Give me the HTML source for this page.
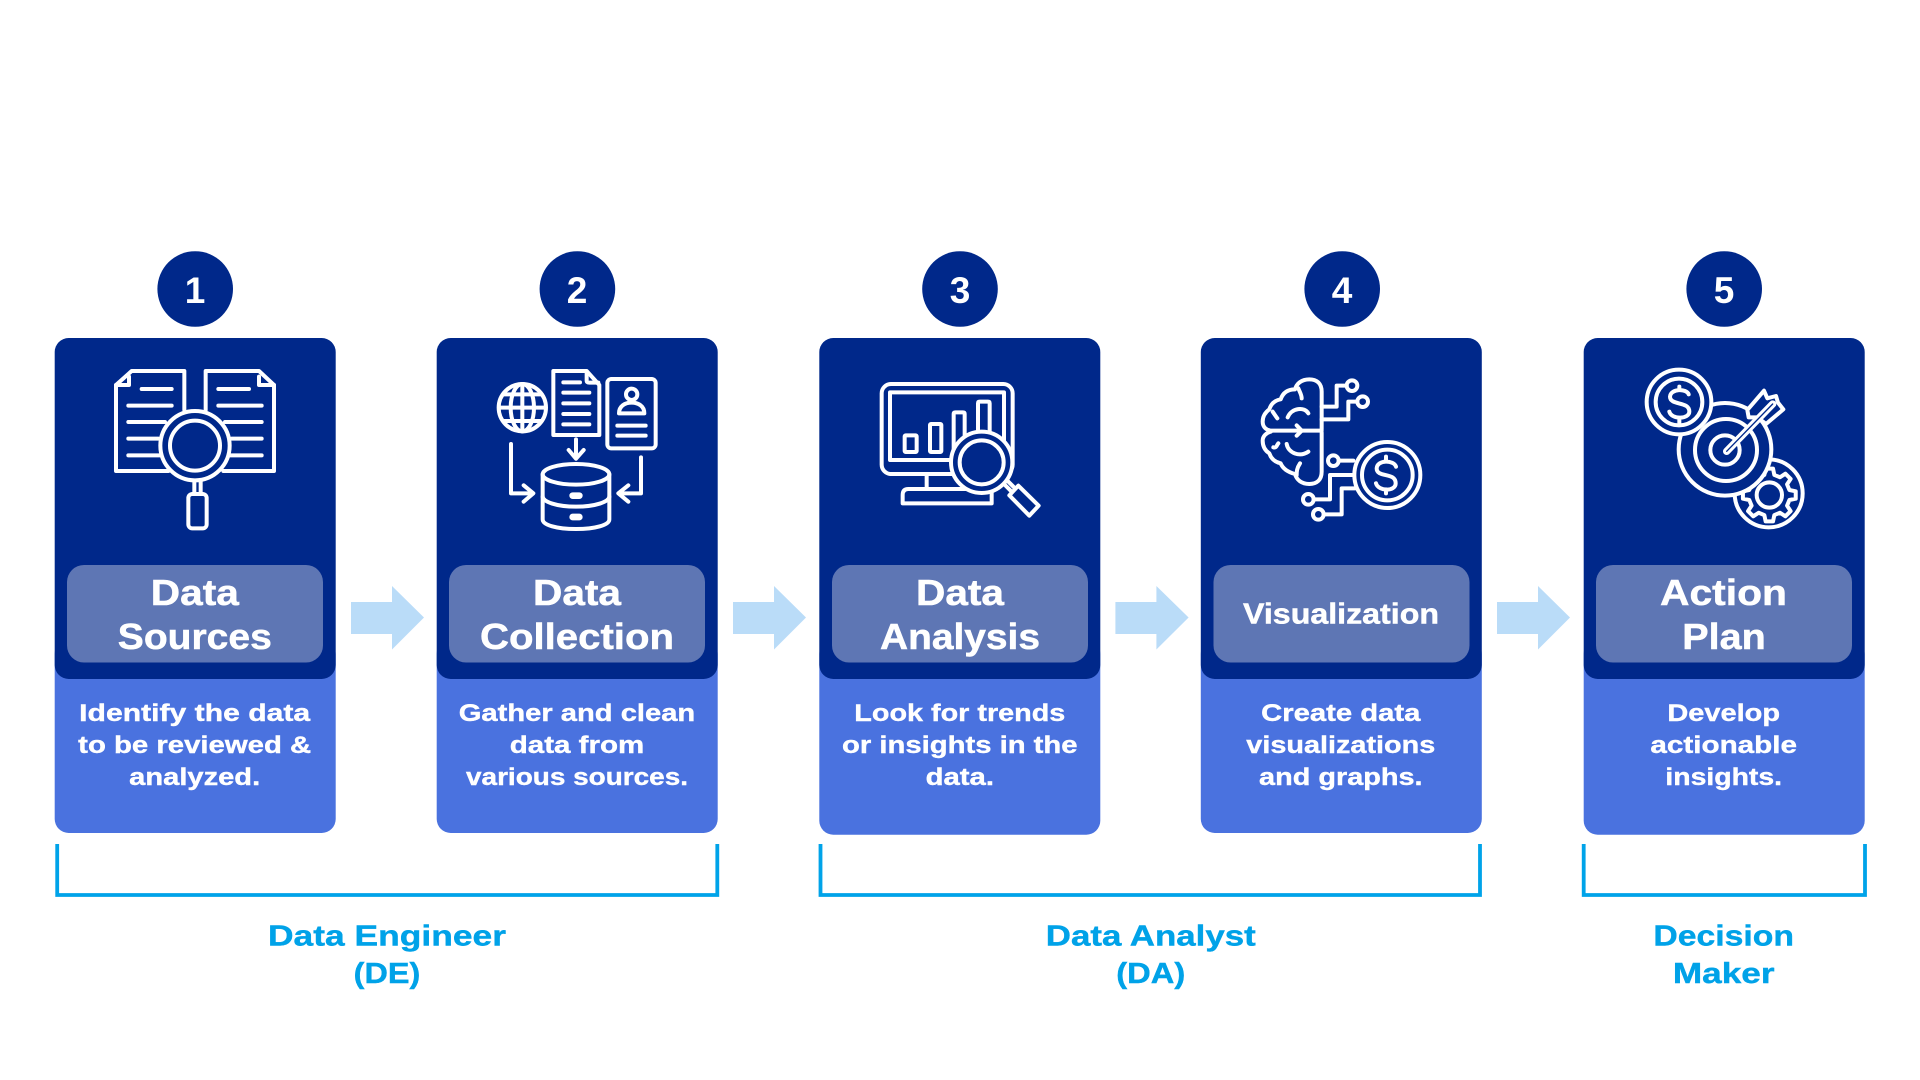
<!DOCTYPE html>
<html lang="en">
<head>
<meta charset="utf-8">
<title>Data workflow diagram</title>
<style>
html,body{margin:0;padding:0;background:#fff;width:1920px;height:1080px;overflow:hidden}
svg{display:block}
text{font-family:"Liberation Sans",sans-serif;font-weight:700;text-anchor:middle}
.t{fill:#fff;font-size:36px;stroke:#fff;stroke-width:.5px}
.d{fill:#fff;font-size:24.5px;stroke:#fff;stroke-width:.4px}
.r{fill:#00a2e8;font-size:28.5px;stroke:#00a2e8;stroke-width:.4px}
.n{fill:#fff;font-size:37px}
.i{fill:none;stroke:#fff;stroke-width:12;stroke-linecap:round;stroke-linejoin:round}
.bg{fill:#00288a}
.b{fill:none;stroke:#00a3e9;stroke-width:3.8}
</style>
</head>
<body>
<svg width="1920" height="1080" viewBox="0 0 1920 1080" xmlns="http://www.w3.org/2000/svg">
<rect width="1920" height="1080" fill="#fff"/>

<!-- light card bodies -->
<g fill="#4a72df">
<rect x="54.7" y="640" width="281" height="193" rx="14"/>
<rect x="436.7" y="640" width="281" height="193" rx="14"/>
<rect x="819.3" y="640" width="281" height="194.7" rx="14"/>
<rect x="1200.8" y="640" width="281" height="193" rx="14"/>
<rect x="1583.7" y="640" width="281" height="194.7" rx="14"/>
</g>
<!-- dark card heads -->
<g fill="#00288a">
<rect x="54.7" y="338" width="281" height="341" rx="14"/>
<rect x="436.7" y="338" width="281" height="341" rx="14"/>
<rect x="819.3" y="338" width="281" height="341" rx="14"/>
<rect x="1200.8" y="338" width="281" height="341" rx="14"/>
<rect x="1583.7" y="338" width="281" height="341" rx="14"/>
</g>
<!-- pills -->
<g fill="#5e76b4">
<rect x="67" y="565" width="256" height="97.5" rx="17"/>
<rect x="449" y="565" width="256" height="97.5" rx="17"/>
<rect x="832" y="565" width="256" height="97.5" rx="17"/>
<rect x="1213.5" y="565" width="256" height="97.5" rx="17"/>
<rect x="1596" y="565" width="256" height="97.5" rx="17"/>
</g>
<!-- number circles -->
<g fill="#00288a">
<circle cx="195.2" cy="289" r="37.8"/>
<circle cx="577.4" cy="289" r="37.8"/>
<circle cx="960" cy="289" r="37.8"/>
<circle cx="1342.2" cy="289" r="37.8"/>
<circle cx="1724.2" cy="289" r="37.8"/>
</g>
<text class="n" x="195" y="303">1</text>
<text class="n" x="577" y="303">2</text>
<text class="n" x="960" y="303">3</text>
<text class="n" x="1342" y="303">4</text>
<text class="n" x="1724" y="303">5</text>

<!-- flow arrows -->
<g fill="#badcf8">
<polygon points="351,602 392,602 392,586 424,617.5 392,649.5 392,634 351,634"/>
<polygon points="733,602 774,602 774,586 806,617.5 774,649.5 774,634 733,634"/>
<polygon points="1115.4,602 1156.4,602 1156.4,586 1188.6,617.5 1156.4,649.5 1156.4,634 1115.4,634"/>
<polygon points="1497,602 1538,602 1538,586 1570,617.5 1538,649.5 1538,634 1497,634"/>
</g>

<!-- titles -->
<text class="t" x="194.8" y="605" textLength="88" lengthAdjust="spacingAndGlyphs">Data</text>
<text class="t" x="194.8" y="649" textLength="154" lengthAdjust="spacingAndGlyphs">Sources</text>
<text class="t" x="577" y="605" textLength="88" lengthAdjust="spacingAndGlyphs">Data</text>
<text class="t" x="577" y="649" textLength="194" lengthAdjust="spacingAndGlyphs">Collection</text>
<text class="t" x="960" y="605" textLength="88" lengthAdjust="spacingAndGlyphs">Data</text>
<text class="t" x="960" y="649" textLength="160" lengthAdjust="spacingAndGlyphs">Analysis</text>
<text class="t" x="1341" y="623.3" style="font-size:29px" textLength="196" lengthAdjust="spacingAndGlyphs">Visualization</text>
<text class="t" x="1723.5" y="605" textLength="127" lengthAdjust="spacingAndGlyphs">Action</text>
<text class="t" x="1724" y="649" textLength="83.5" lengthAdjust="spacingAndGlyphs">Plan</text>

<!-- descriptions -->
<text class="d" x="194.7" y="721" textLength="231" lengthAdjust="spacingAndGlyphs">Identify the data</text>
<text class="d" x="194.7" y="753" textLength="233" lengthAdjust="spacingAndGlyphs">to be reviewed &amp;</text>
<text class="d" x="194.7" y="785" textLength="131" lengthAdjust="spacingAndGlyphs">analyzed.</text>
<text class="d" x="577" y="721" textLength="236.5" lengthAdjust="spacingAndGlyphs">Gather and clean</text>
<text class="d" x="577" y="753" textLength="134.5" lengthAdjust="spacingAndGlyphs">data from</text>
<text class="d" x="577" y="785" textLength="222" lengthAdjust="spacingAndGlyphs">various sources.</text>
<text class="d" x="959.8" y="721" textLength="211" lengthAdjust="spacingAndGlyphs">Look for trends</text>
<text class="d" x="959.8" y="753" textLength="235.5" lengthAdjust="spacingAndGlyphs">or insights in the</text>
<text class="d" x="959.8" y="785" textLength="68.4" lengthAdjust="spacingAndGlyphs">data.</text>
<text class="d" x="1340.8" y="721" textLength="159.3" lengthAdjust="spacingAndGlyphs">Create data</text>
<text class="d" x="1340.8" y="753" textLength="189" lengthAdjust="spacingAndGlyphs">visualizations</text>
<text class="d" x="1340.8" y="785" textLength="163.5" lengthAdjust="spacingAndGlyphs">and graphs.</text>
<text class="d" x="1723.7" y="721" textLength="112.7" lengthAdjust="spacingAndGlyphs">Develop</text>
<text class="d" x="1723.7" y="753" textLength="146.7" lengthAdjust="spacingAndGlyphs">actionable</text>
<text class="d" x="1723.7" y="785" textLength="116.7" lengthAdjust="spacingAndGlyphs">insights.</text>

<!-- brackets -->
<path class="b" d="M57.2 844 V895 H717.3 V844"/>
<path class="b" d="M820.5 844 V895 H1480 V844"/>
<path class="b" d="M1583.7 844 V895 H1865 V844"/>

<!-- roles -->
<text class="r" x="387" y="945.7" textLength="238" lengthAdjust="spacingAndGlyphs">Data Engineer</text>
<text class="r" x="387" y="983" textLength="66.6" lengthAdjust="spacingAndGlyphs">(DE)</text>
<text class="r" x="1150.8" y="945.7" textLength="210" lengthAdjust="spacingAndGlyphs">Data Analyst</text>
<text class="r" x="1150.8" y="983" textLength="69" lengthAdjust="spacingAndGlyphs">(DA)</text>
<text class="r" x="1723.7" y="945.7" textLength="140.7" lengthAdjust="spacingAndGlyphs">Decision</text>
<text class="r" x="1723.7" y="983" textLength="101.7" lengthAdjust="spacingAndGlyphs">Maker</text>

<!-- icon 1 -->
<g class="i" transform="translate(105 360) scale(.33333)">
<path d="M238 150 V33 H80 L33 75 V333 H190"/>
<path d="M72 50 V75 H33"/>
<path d="M302 150 V33 H462 L507 75 V333 H355"/>
<path d="M462 50 V75 H507"/>
<path d="M110 87 H200 M70 137 H200 M70 186 H180 M70 236 H160 M70 286 H165"/>
<path d="M340 87 H432 M340 137 H470 M360 186 H470 M380 236 H470 M370 286 H470"/>
<circle class="bg" cx="270" cy="257" r="104"/>
<circle cx="270" cy="257" r="75"/>
<path d="M268 362 V400 M287 362 V400"/>
<rect x="250" y="402" width="55" height="103" rx="12"/>
</g>

<!-- icon 2 -->
<g class="i" transform="translate(490 360) scale(.33333)">
<circle cx="97" cy="143" r="71"/>
<ellipse cx="97" cy="143" rx="35" ry="71"/>
<path d="M97 72 V214 M30 143 H164 M42 103 H152 M42 183 H152"/>
<path d="M190 33 H290 L328 75 V225 H190 Z"/>
<path d="M290 35 V62 Q290 68 298 68 H325"/>
<path d="M220 67 H270 M220 98 H298 M220 130 H298 M220 162 H298 M220 193 H298"/>
<rect x="352" y="57" width="145" height="208" rx="12"/>
<circle cx="425" cy="103" r="17"/>
<path d="M387 160 H463 C463 138 445 128 425 128 C405 128 387 138 387 160 Z"/>
<path d="M382 197 H467 M382 227 H467"/>
<path d="M258 238 V296 M236 270 L258 296 L281 270"/>
<path d="M63 252 V400 H128 M101 376 L130 400 L101 425"/>
<path d="M453 292 V400 H389 M415 376 L385 400 L415 425"/>
<ellipse cx="258" cy="343" rx="100" ry="31"/>
<path d="M158 343 V478 C158 495 200 507 258 507 C316 507 358 495 358 478 V343"/>
<path d="M158 410 C158 425 200 440 258 440 C316 440 358 425 358 410"/>
<rect x="244" y="403" width="28" height="8" rx="4"/>
<rect x="244" y="467" width="28" height="8" rx="4"/>
</g>

<!-- icon 3 -->
<g class="i" transform="translate(800 340) scale(.33333)">
<rect x="245" y="132" width="393" height="270" rx="28"/>
<rect x="270" y="157" width="342" height="203"/>
<rect x="314" y="286" width="36" height="50" rx="3"/>
<rect x="390" y="252" width="34" height="84" rx="3"/>
<path d="M461 330 V222 Q461 217 466 217 H489 Q494 217 494 222 V310"/>
<path d="M534 275 V190 Q534 185 539 185 H564 Q569 185 569 190 V275"/>
<path d="M380 402 V445"/>
<path d="M575 455 V490 H308 V465 Q308 447 325 447 H530"/>
<circle class="bg" cx="545" cy="367" r="92"/>
<circle cx="545" cy="367" r="66"/>
<path d="M612 432 L632 452 M624 424 L642 442"/>
<path d="M655 437 L716 497 L688 527 L628 466 Z"/>
</g>

<!-- icon 4 -->
<g class="i" transform="translate(1250 370) scale(.33333)">
<path d="M215 178 V65 C215 40 200 28 178 28 C155 28 140 40 135 58 C110 58 98 70 92 88 C70 92 62 105 58 118 C42 130 38 145 38 155 C38 172 50 180 62 182 H215"/>
<path d="M145 55 C150 68 155 75 155 85 M68 125 C75 135 78 140 82 145 M175 130 C165 110 125 112 113 142"/>
<path d="M140 166 L155 182 L140 197"/>
<path d="M215 188 V305 C215 330 200 342 178 342 C155 342 140 330 135 312 C110 305 98 295 92 280 C70 275 62 262 58 250 C42 240 38 225 38 212 C38 198 50 188 62 185"/>
<path d="M150 280 C140 295 140 305 140 315 M70 232 C80 235 80 225 85 220 M110 222 C115 250 150 262 175 245"/>
<path d="M215 110 H260 V47 H290 M215 148 H295 V95 H322"/>
<circle cx="306" cy="47" r="16"/>
<circle cx="338" cy="95" r="16"/>
<circle cx="412" cy="315" r="99"/>
<circle cx="412" cy="315" r="76"/>
<path d="M438 290 C432 270 382 268 380 295 C380 325 437 305 437 340 C437 365 385 365 378 340 M408 260 V272 M408 358 V370"/>
<circle cx="250" cy="272" r="16"/>
<circle cx="175" cy="388" r="16"/>
<circle cx="205" cy="433" r="16"/>
<path d="M266 272 H310 M191 388 H240 V315 H310 M221 433 H275 V355 H315"/>
</g>

<!-- icon 5 -->
<g class="i" transform="translate(1640 360) scale(.33333)">
<circle cx="386" cy="400" r="102"/>
<path transform="translate(388 405)" d="M60.2 -15 L79.2 -11.1 L79.2 11.1 L60.2 15 L53.2 32 L63.9 48.2 L48.2 63.9 L32 53.2 L15 60.2 L11.1 79.2 L-11.1 79.2 L-15 60.2 L-32 53.2 L-48.2 63.9 L-63.9 48.2 L-53.2 32 L-60.2 15 L-79.2 11.1 L-79.2 -11.1 L-60.2 -15 L-53.2 -32 L-63.9 -48.2 L-48.2 -63.9 L-32 -53.2 L-15 -60.2 L-11.1 -79.2 L11.1 -79.2 L15 -60.2 L32 -53.2 L48.2 -63.9 L63.9 -48.2 L53.2 -32 Z"/>
<circle cx="388" cy="405" r="38"/>
<circle class="bg" cx="255" cy="268" r="139"/>
<circle cx="258" cy="270" r="93"/>
<circle cx="255" cy="270" r="44"/>
<path class="bg" d="M326 172 L322 150 L372 92 L382 115 L408 108 L414 128 L430 148 L378 192 L352 172 Z"/>
<path d="M260 274 L398 132" style="stroke-width:22"/>
<path d="M260 274 L398 132" style="stroke:#00288a;stroke-width:4"/>
<circle class="bg" cx="117" cy="126" r="97"/>
<circle cx="117" cy="126" r="70"/>
<path d="M146 103 C140 85 92 85 90 110 C90 138 148 122 148 155 C148 178 95 180 88 155 M118 80 V90 M118 178 V188"/>
</g>
</svg>
</body>
</html>
